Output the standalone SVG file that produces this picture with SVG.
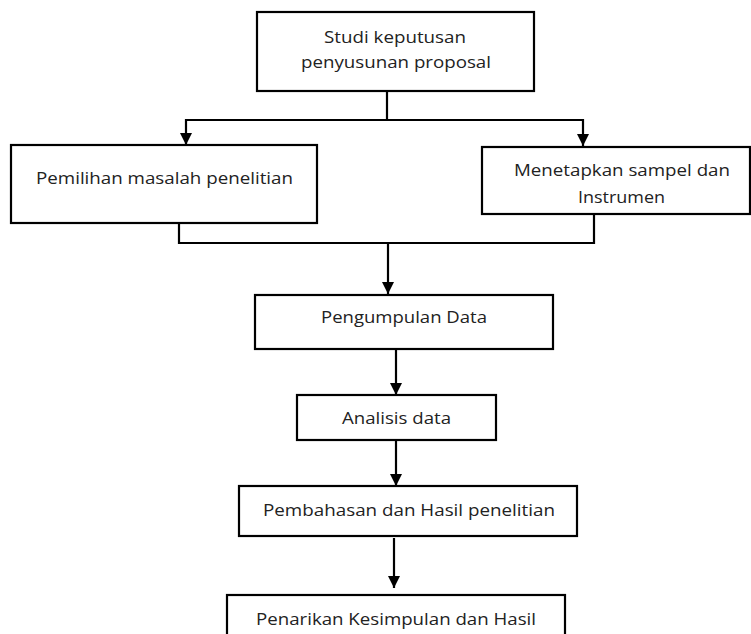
<svg xmlns="http://www.w3.org/2000/svg" width="751" height="634" viewBox="0 0 751 634">
<style>
.box{fill:#fff;stroke:#000;stroke-width:2.2}
.ln{fill:none;stroke:#000;stroke-width:2.2}
.t{font-family:"Open Sans","Noto Sans","Liberation Sans",sans-serif;font-size:17px;fill:#222;text-anchor:middle}
</style>
<defs>
<marker id="ah" markerUnits="userSpaceOnUse" markerWidth="12" markerHeight="12" viewBox="0 0 12 12" refX="12" refY="6" orient="auto">
<path d="M0,0 L12,6 L0,12 Z" fill="#000"/>
</marker>
</defs>
<g id="connectors">
<path class="ln" d="M387,91 V120 H186 V145" marker-end="url(#ah)"/>
<path class="ln" d="M387,120 H583 V146" marker-end="url(#ah)"/>
<path class="ln" d="M179,223 V243 H594 V214"/>
<path class="ln" d="M388,243 V294" marker-end="url(#ah)"/>
<path class="ln" d="M396,349 V395" marker-end="url(#ah)"/>
<path class="ln" d="M396,440 V486" marker-end="url(#ah)"/>
<path class="ln" d="M394,538 V588" marker-end="url(#ah)"/>
</g>
<g id="n1">
<rect class="box" x="257" y="12" width="277" height="79"/>
<text class="t" x="395" y="43" textLength="142" lengthAdjust="spacingAndGlyphs">Studi keputusan</text>
<text class="t" x="396" y="68" textLength="190" lengthAdjust="spacingAndGlyphs">penyusunan proposal</text>
</g>
<g id="n2">
<rect class="box" x="11" y="145" width="306" height="78"/>
<text class="t" x="164.5" y="184" textLength="257" lengthAdjust="spacingAndGlyphs">Pemilihan masalah penelitian</text>
</g>
<g id="n3">
<rect class="box" x="482" y="147" width="268" height="67"/>
<text class="t" x="622" y="176" textLength="216" lengthAdjust="spacingAndGlyphs">Menetapkan sampel dan</text>
<text class="t" x="621.5" y="203" textLength="87" lengthAdjust="spacingAndGlyphs">Instrumen</text>
</g>
<g id="n4">
<rect class="box" x="255" y="295" width="298" height="54"/>
<text class="t" x="404" y="323" textLength="166" lengthAdjust="spacingAndGlyphs">Pengumpulan Data</text>
</g>
<g id="n5">
<rect class="box" x="297" y="395" width="199" height="45"/>
<text class="t" x="396.5" y="424" textLength="109" lengthAdjust="spacingAndGlyphs">Analisis data</text>
</g>
<g id="n6">
<rect class="box" x="239" y="486" width="338" height="50"/>
<text class="t" x="409" y="516" textLength="292" lengthAdjust="spacingAndGlyphs">Pembahasan dan Hasil penelitian</text>
</g>
<g id="n7">
<rect class="box" x="227" y="595" width="338" height="60"/>
<text class="t" x="396" y="625" textLength="280" lengthAdjust="spacingAndGlyphs">Penarikan Kesimpulan dan Hasil</text>
</g>
</svg>
